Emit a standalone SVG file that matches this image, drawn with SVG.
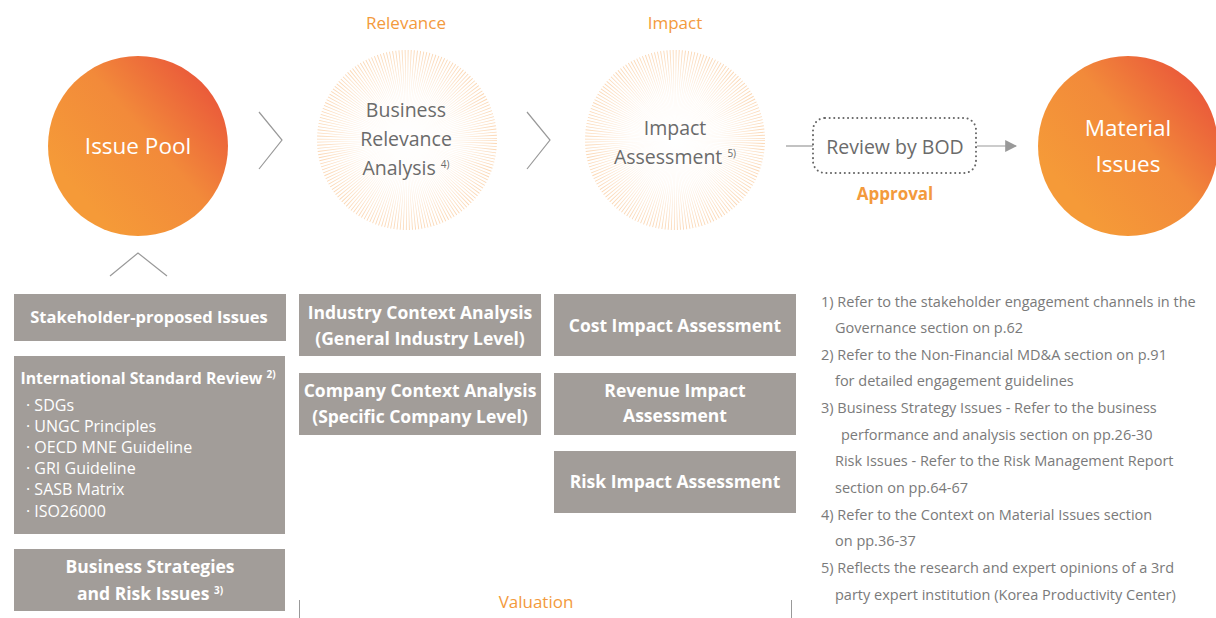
<svg xmlns="http://www.w3.org/2000/svg" width="1216" height="618" viewBox="0 0 1216 618">
<style>
.lbl{font-family:"Open Sans","Noto Sans",sans-serif;fill:#f39a3c;font-size:17px;text-anchor:middle}
.ctext{font-family:"Open Sans","Noto Sans",sans-serif;fill:#6b6b6b;font-size:19.5px;text-anchor:middle}
.wtext{font-family:"Open Sans","Noto Sans",sans-serif;fill:#ffffff;font-size:22.5px;text-anchor:middle}
.box{fill:#a29d99}
.btext{font-family:"Open Sans","Noto Sans",sans-serif;fill:#ffffff;font-size:17.5px;font-weight:700;text-anchor:middle}
.item{font-family:"Open Sans","Noto Sans",sans-serif;fill:#ffffff;font-size:16px}
.note{font-family:"Open Sans","Noto Sans",sans-serif;fill:#7a7a7a;font-size:14.5px}
.sup{font-size:10px}
.chev{fill:none;stroke:#999;stroke-width:1.2}
</style>
<defs>
<linearGradient id="og" x1="0.2" y1="0.8" x2="0.95" y2="0.15">
<stop offset="0" stop-color="#f59a38"/>
<stop offset="0.5" stop-color="#f28a3a"/>
<stop offset="1" stop-color="#e9543a"/>
</linearGradient>
<radialGradient id="burstg" gradientUnits="userSpaceOnUse" cx="0" cy="0" r="90">
<stop offset="0" stop-color="#ffffff"/>
<stop offset="0.5" stop-color="#fef5ec"/>
<stop offset="1" stop-color="#fbd6b2"/>
</radialGradient>
<g id="burst">
<circle cx="0" cy="0" r="45" fill="none" stroke="url(#burstg)" stroke-width="90" stroke-dasharray="0.45 1.121"/>
</g>
<marker id="arr" viewBox="0 0 10 10" refX="9" refY="5" markerWidth="12" markerHeight="12" markerUnits="userSpaceOnUse" orient="auto">
<path d="M0,0 L10,5 L0,10 z" fill="#999"/>
</marker>
</defs>
<rect width="1216" height="618" fill="#fff"/>

<text class="lbl" x="406" y="29">Relevance</text>
<text class="lbl" x="675" y="29">Impact</text>

<g id="connectors">
<polyline class="chev" points="259,112 282,140 259,169"/>
<polyline class="chev" points="527,112 550,140 527,169"/>
<polyline class="chev" points="110,276 138,253 167,276"/>
<line x1="786" y1="146" x2="813" y2="146" stroke="#999" stroke-width="1.2"/>
<line x1="977" y1="146" x2="1016" y2="146" stroke="#999" stroke-width="1.2" marker-end="url(#arr)"/>
<line x1="299.5" y1="600" x2="299.5" y2="618" stroke="#999" stroke-width="1"/>
<line x1="791.5" y1="600" x2="791.5" y2="618" stroke="#999" stroke-width="1"/>
</g>

<g id="issue-pool">
<circle cx="138" cy="146" r="90" fill="url(#og)"/>
<text class="wtext" x="138" y="154">Issue Pool</text>
</g>

<g id="relevance">
<use href="#burst" transform="translate(407,140)"/>
<text class="ctext" x="406" y="117">Business</text>
<text class="ctext" x="406" y="146">Relevance</text>
<text class="ctext" x="406" y="175">Analysis <tspan class="sup" dy="-7">4)</tspan></text>
</g>

<g id="impact">
<use href="#burst" transform="translate(675,140)"/>
<text class="ctext" x="675" y="135">Impact</text>
<text class="ctext" x="675" y="164">Assessment <tspan class="sup" dy="-7">5)</tspan></text>
</g>

<g id="review">
<rect x="813" y="118" width="163" height="55" rx="12" fill="none" stroke="#666" stroke-width="2" stroke-dasharray="0.1 4.5" stroke-linecap="round"/>
<text class="ctext" x="895" y="154">Review by BOD</text>
<text x="895" y="200" style="font-family:'Open Sans','Noto Sans',sans-serif;fill:#f39a3c;font-size:17px;font-weight:700;text-anchor:middle">Approval</text>
</g>

<g id="material">
<circle cx="1128" cy="146" r="90" fill="url(#og)"/>
<text class="wtext" x="1128" y="136">Material</text>
<text class="wtext" x="1128" y="172">Issues</text>
</g>

<g id="stakeholder">
<rect class="box" x="14" y="294" width="272" height="47"/>
<text class="btext" x="149" y="323" style="font-size:16.5px">Stakeholder-proposed Issues</text>
</g>

<g id="intl">
<rect class="box" x="14" y="356" width="271" height="178"/>
<text class="btext" x="148" y="384" style="font-size:15.8px">International Standard Review <tspan class="sup" dy="-6">2)</tspan></text>
<text class="item" x="26" y="411">· SDGs</text>
<text class="item" x="26" y="432">· UNGC Principles</text>
<text class="item" x="26" y="453">· OECD MNE Guideline</text>
<text class="item" x="26" y="474">· GRI Guideline</text>
<text class="item" x="26" y="495">· SASB Matrix</text>
<text class="item" x="26" y="517">· ISO26000</text>
</g>

<g id="bizstrat">
<rect class="box" x="14" y="549" width="271" height="62"/>
<text class="btext" x="150" y="573">Business Strategies</text>
<text class="btext" x="150" y="600">and Risk Issues <tspan class="sup" dy="-6">3)</tspan></text>
</g>

<g id="industry">
<rect class="box" x="299" y="294" width="242" height="62"/>
<text class="btext" x="420" y="319">Industry Context Analysis</text>
<text class="btext" x="420" y="345">(General Industry Level)</text>
</g>

<g id="company">
<rect class="box" x="299" y="373" width="242" height="62"/>
<text class="btext" x="420" y="397">Company Context Analysis</text>
<text class="btext" x="420" y="423">(Specific Company Level)</text>
</g>

<g id="cost">
<rect class="box" x="554" y="294" width="242" height="62"/>
<text class="btext" x="675" y="332">Cost Impact Assessment</text>
</g>

<g id="revenue">
<rect class="box" x="554" y="373" width="242" height="62"/>
<text class="btext" x="675" y="397">Revenue Impact</text>
<text class="btext" x="675" y="422">Assessment</text>
</g>

<g id="risk">
<rect class="box" x="554" y="451" width="242" height="62"/>
<text class="btext" x="675" y="488">Risk Impact Assessment</text>
</g>

<text class="lbl" x="536" y="608">Valuation</text>

<g id="notes">
<text class="note" x="821" y="307">1) Refer to the stakeholder engagement channels in the</text>
<text class="note" x="835" y="333">Governance section on p.62</text>
<text class="note" x="821" y="360">2) Refer to the Non-Financial MD&amp;A section on p.91</text>
<text class="note" x="835" y="386">for detailed engagement guidelines</text>
<text class="note" x="821" y="413">3) Business Strategy Issues - Refer to the business</text>
<text class="note" x="841" y="440">performance and analysis section on pp.26-30</text>
<text class="note" x="835" y="466">Risk Issues - Refer to the Risk Management Report</text>
<text class="note" x="835" y="493">section on pp.64-67</text>
<text class="note" x="821" y="520">4) Refer to the Context on Material Issues section</text>
<text class="note" x="835" y="546">on pp.36-37</text>
<text class="note" x="821" y="573">5) Reflects the research and expert opinions of a 3rd</text>
<text class="note" x="835" y="600">party expert institution (Korea Productivity Center)</text>
</g>
</svg>
